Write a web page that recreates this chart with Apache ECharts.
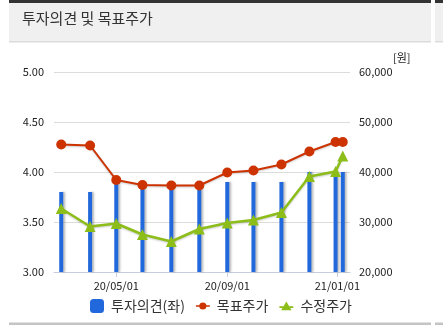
<!DOCTYPE html>
<html>
<head>
<meta charset="utf-8">
<script src="https://cdn.jsdelivr.net/npm/echarts@6/dist/echarts.min.js"></script>
<style>
  html, body { margin: 0; padding: 0; background: #fff; }
  #chart { width: 443px; height: 325px; }
</style>
</head>
<body>
<div id="chart"></div>
<script>
// Report dates
const dates = ['2020-03-01', '2020-04-02', '2020-05-01', '2020-05-30', '2020-07-01', '2020-08-01',
               '2020-09-01', '2020-09-30', '2020-10-31', '2020-12-01', '2020-12-30', '2021-01-07'];
// 투자의견 (left axis)
const opinion = [3.8, 3.8, 3.9, 3.9, 3.9, 3.9, 3.9, 3.9, 3.9, 4.0, 4.0, 4.0];
// 목표주가 (right axis, 원)
const targetPrice = [45500, 45300, 38400, 37400, 37300, 37300, 39900, 40300, 41500, 44100, 46000, 46000];
// 수정주가 (right axis, 원)
const adjPrice = [32700, 29100, 29700, 27500, 26100, 28600, 29800, 30400, 31900, 39100, 40100, 43200];
// Labelled dates on the x axis
const xTickDates = ['2020-05-01', '2020-09-01', '2021-01-01'];

const seriesNames = ['투자의견(좌)', '목표주가', '수정주가'];
const titleText = '투자의견 및 목표주가';

// dates as UTC milliseconds on a plain value axis
const ts = d => Date.parse(d + 'T00:00:00Z');
const pair = (vals) => dates.map((d, i) => [ts(d), vals[i]]);
const pad2 = n => (n < 10 ? '0' : '') + n;

// legend glyphs: short line with a marker, framed by two tiny corner dots so the box stays 14x14
const frame = 'M0,0h0.05v0.05h-0.05z M14,14h0.05v0.05h-0.05z ';
const lineCircleIcon = 'path://' + frame + 'M0,6.2h14v1.6h-14z M3.4,7a3.6,3.6 0 1,1 7.2,0a3.6,3.6 0 1,1 -7.2,0z';
const lineTriangleIcon = 'path://' + frame + 'M0,7.4h14v1.6h-14z M7,2.6L12.2,11.2L1.8,11.2z';

const chart = echarts.init(document.getElementById('chart'), null, { renderer: 'canvas' });

const font = '"Noto Sans CJK KR", "Noto Sans", sans-serif';

chart.setOption({
  animation: false,
  backgroundColor: '#fff',
  textStyle: { fontFamily: font },
  graphic: [
    // header panel
    { type: 'rect', shape: { x: 9, y: 0, width: 422, height: 41 }, style: { fill: '#f0f0f0' }, silent: true },
    { type: 'rect', shape: { x: 9, y: 0, width: 422, height: 3 }, style: { fill: '#333' }, silent: true },
    { type: 'rect', shape: { x: 9, y: 41, width: 422, height: 1.5 }, style: { fill: '#dcdcdc' }, silent: true },
    { type: 'rect', shape: { x: 435, y: 0, width: 10, height: 41 }, style: { fill: '#f0f0f0' }, silent: true },
    { type: 'rect', shape: { x: 435, y: 0, width: 10, height: 3 }, style: { fill: '#333' }, silent: true },
    { type: 'rect', shape: { x: 435, y: 41, width: 10, height: 1.5 }, style: { fill: '#dcdcdc' }, silent: true },
    { type: 'text', left: 22, top: 11, style: { text: titleText, fill: '#333', font: '15px ' + font } },
    // unit label
    { type: 'text', left: 393, top: 52, style: { text: '[원]', fill: '#222', font: '11px ' + font } },
    // bottom rule
    { type: 'rect', shape: { x: 9, y: 322.5, width: 422, height: 2.5 }, style: { fill: '#c4c4c4' }, silent: true },
    { type: 'rect', shape: { x: 435, y: 322.5, width: 10, height: 2.5 }, style: { fill: '#c4c4c4' }, silent: true }
  ],
  legend: {
    left: 85, top: 294,
    itemGap: 11, itemWidth: 14, itemHeight: 14,
    textStyle: { fontSize: 14, color: '#333', fontFamily: font, padding: [0, 0, 0, 2] },
    data: [
      { name: seriesNames[0], icon: 'roundRect' },
      { name: seriesNames[1], icon: lineCircleIcon },
      { name: seriesNames[2], icon: lineTriangleIcon }
    ]
  },
  grid: { left: 54, right: 93, top: 72, bottom: 53 },
  xAxis: {
    type: 'value',
    min: ts('2020-02-22'),
    max: ts('2021-01-15'),
    axisLine: { lineStyle: { color: '#c6cede', width: 1 } },
    axisTick: { show: true, length: 5, lineStyle: { color: '#c6cede' }, customValues: xTickDates.map(ts) },
    axisLabel: {
      customValues: xTickDates.map(ts),
      color: '#222', fontSize: 11, margin: 8,
      formatter: v => {
        const d = new Date(v);
        return String(d.getUTCFullYear()).slice(2) + '/' + pad2(d.getUTCMonth() + 1) + '/' + pad2(d.getUTCDate());
      }
    },
    splitLine: { show: false }
  },
  yAxis: [
    {
      type: 'value', min: 3, max: 5, interval: 0.5,
      axisLine: { show: false }, axisTick: { show: false },
      axisLabel: { color: '#222', fontSize: 11, margin: 10, formatter: v => v.toFixed(2) },
      splitLine: { lineStyle: { color: '#dcdcdc', width: 1 } }
    },
    {
      type: 'value', min: 20000, max: 60000, interval: 10000,
      axisLine: { show: false }, axisTick: { show: false },
      axisLabel: { color: '#222', fontSize: 11, margin: 9, formatter: v => v.toLocaleString('en-US') },
      splitLine: { show: false }
    }
  ],
  series: [
    {
      name: seriesNames[0], type: 'bar', yAxisIndex: 0,
      data: pair(opinion), barWidth: 4,
      itemStyle: { color: '#2168dc', shadowColor: 'rgba(0,0,0,0.25)', shadowBlur: 2, shadowOffsetX: 2 }
    },
    {
      name: seriesNames[1], type: 'line', yAxisIndex: 1,
      data: pair(targetPrice),
      symbol: 'circle', symbolSize: 10,
      lineStyle: { color: '#cc3300', width: 2, shadowColor: 'rgba(0,0,0,0.2)', shadowBlur: 2, shadowOffsetY: 1 },
      itemStyle: { color: '#cc3300' }
    },
    {
      name: seriesNames[2], type: 'line', yAxisIndex: 1,
      data: pair(adjPrice),
      symbol: 'triangle', symbolSize: 11,
      lineStyle: { color: '#8cbd18', width: 2.5, shadowColor: 'rgba(0,0,0,0.2)', shadowBlur: 2, shadowOffsetY: 1 },
      itemStyle: { color: '#8cbd18' }
    }
  ]
});
</script>
</body>
</html>
